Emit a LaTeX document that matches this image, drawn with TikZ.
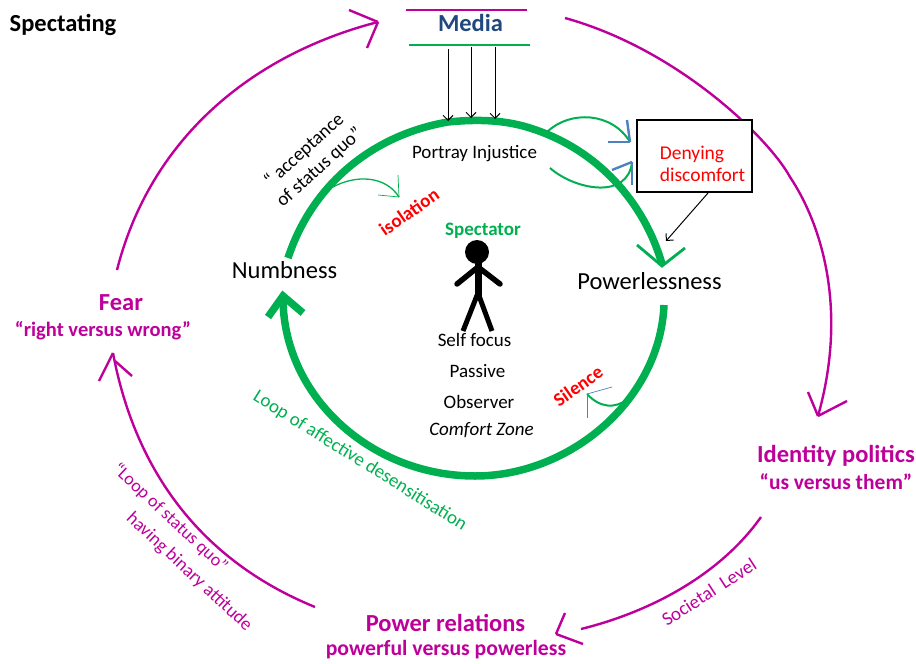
\documentclass[tikz,border=0pt]{standalone}
\usepackage{fontspec}
\setmainfont{Carlito}
\usetikzlibrary{arrows.meta}
\definecolor{pgreen}{RGB}{0,176,80}
\definecolor{ppurple}{RGB}{190,0,155}
\definecolor{pblue}{RGB}{31,73,125}
\definecolor{parrow}{RGB}{79,129,189}
\tikzset{
 lbl/.style={inner sep=0pt,align=center,font=\fontsize{#1}{#1}\selectfont},
 blbl/.style={inner sep=0pt,align=center,font=\fontsize{#1}{#1}\selectfont\bfseries},
 loopline/.style={ppurple,line width=2.4pt},
 bigloop/.style={pgreen,line width=7.5pt},
 smallarc/.style={pgreen,line width=2pt},
 wingb/.style={parrow,line width=2.4pt},
 thinb/.style={parrow,line width=.7pt},
 thinarrow/.style={black,line width=1pt,-{Straight Barb[length=5pt,width=10pt]}}
}
\begin{document}
\begin{tikzpicture}[x=1pt,y=-1pt]
\useasboundingbox (0,0) rectangle (916,664);
% coordinates
\coordinate (mr) at (565,18);
\coordinate (midid) at (790,177);
\coordinate (tipid) at (818,416);
\coordinate (idb) at (761,517);
\coordinate (endpow) at (581,629);
\coordinate (tippow) at (556,634);
\coordinate (pl) at (315,607);
\coordinate (tipfear) at (113,353);
\coordinate (fear) at (117,270);
\coordinate (tipmedia) at (378,22);
% purple loops
\draw[loopline] (mr) .. controls (680,50) and (770,140) .. (midid) .. controls (822,225) and (848,310) .. (tipid);
\draw[loopline] (tipid) -- (808,392);
\draw[loopline] (tipid) -- (847,401);
\draw[loopline] (idb) .. controls (720,575) and (650,612) .. (endpow);
\draw[loopline] (tippow) -- (565,613);
\draw[loopline] (tippow) -- (583,644);
\draw[loopline] (pl) .. controls (200,560) and (135,470) .. (tipfear);
\draw[loopline] (tipfear) -- (99,381);
\draw[loopline] (115,361) -- (132,376);
\draw[loopline] (fear) .. controls (150,140) and (250,55) .. (tipmedia);
\draw[loopline] (tipmedia) -- (349,10);
\draw[loopline] (tipmedia) -- (367,48);
% media
\coordinate (ml1) at (406,10);\coordinate (ml2) at (527,10);
\coordinate (ml3) at (409,45);\coordinate (ml4) at (530,45);
\draw[ppurple,line width=2.6pt] (ml1) -- (ml2);
\draw[pgreen,line width=2.8pt] (ml3) -- (ml4);
\node[blbl=24.5,text=pblue] (media) at (470.5,22.5) {Media};
% green loop
\coordinate (g1) at (288,258);
\coordinate (g1b) at (448,122);
\coordinate (g1c) at (530,128);
\coordinate (g1d) at (662,264);
\draw[bigloop] (g1) .. controls (312,185) and (372,135) .. (g1b) .. controls (478,119) and (505,120) .. (g1c) .. controls (600,150) and (645,205) .. (g1d);
\coordinate (g2) at (664,305);
\coordinate (g2b) at (475,476);
\coordinate (g2c) at (283,296);
\draw[bigloop] (g2) .. controls (660,400) and (570,476) .. (g2b) .. controls (370,476) and (282,395) .. (g2c);
\draw[pgreen,line width=7.5pt] (268,317) -- (283,296) -- (303,313);
\draw[pgreen,line width=2.8pt] (637,245) -- (662,266) -- (685,248);
% small arcs
\coordinate (a1) at (333,187);
\coordinate (a1t) at (399,197);
\draw[smallarc,line width=1.3pt] (a1) .. controls (355,175) and (385,175) .. (a1t);
\draw[pgreen,line width=.7pt] (a1t) -- (398,175);
\draw[pgreen,line width=.7pt] (a1t) -- (378,195);
\coordinate (a2) at (547,132);
\coordinate (a2t) at (630,142);
\draw[smallarc] (a2) .. controls (570,110) and (612,112) .. (a2t);
\draw[wingb] (a2t) -- (627,120);
\draw[wingb] (a2t) -- (608,142);
\coordinate (a3) at (550,168);
\coordinate (a3t) at (632,162);
\draw[smallarc] (a3) .. controls (575,190) and (628,200) .. (a3t);
\draw[wingb] (a3t) -- (632,185);
\draw[wingb] (a3t) -- (612,170);
\coordinate (a4) at (628,399);
\coordinate (a4t) at (587,394);
\draw[smallarc] (a4) .. controls (615,409) and (600,408) .. (a4t);
\draw[thinb] (a4t) -- (612,387);
\draw[thinb] (a4t) -- (587,418);
% box
\node[draw=black,line width=2pt,fill=white,minimum width=115pt,minimum height=72pt,inner sep=0pt] (box) at (694.5,156) {};
\node[inner sep=0pt,align=left,text=red,font=\fontsize{19.5}{22}\selectfont] (boxt) at (702.5,164) {Denying\\discomfort};
% media arrows
\coordinate (m1) at (448,49);\coordinate (m1e) at (448,121);
\coordinate (m2) at (471,47);\coordinate (m2e) at (471,118);
\coordinate (m3) at (495,47);\coordinate (m3e) at (495,119);
\draw[thinarrow] (m1) -- (m1e);
\draw[thinarrow] (m2) -- (m2e);
\draw[thinarrow] (m3) -- (m3e);
\coordinate (bx) at (708,193);\coordinate (bxe) at (666,241);
\draw[thinarrow] (bx) -- (bxe);
% person
\fill (477,252) circle (12);
\draw[line width=5.5pt,line cap=round] (457,284) -- (478,267) -- (500,284);
\draw[line width=7pt] (478,263) -- (478,297);
\draw[line width=5pt] (478,293) -- (463,331);
\draw[line width=5pt] (478,293) -- (492,331);
% texts
\node[blbl=24.5] (spect) at (63,25) {Spectating};
\node[lbl=24.5] (numb) at (284.5,270) {Numbness};
\node[lbl=24.5] (power) at (649.5,281) {Powerlessness};
\node[lbl=19] (portray) at (474.5,154) {Portray Injustice};
\node[blbl=19,text=pgreen] (spectator) at (483,231) {Spectator};
\node[lbl=19] (self) at (474.5,340) {Self focus};
\node[lbl=19] (pass) at (477.5,371) {Passive};
\node[lbl=19] (obs) at (479,402) {Observer};
\node[lbl=19,font=\fontsize{19}{19}\selectfont\itshape] (cz) at (481.5,430) {Comfort Zone};
\node[blbl=19,text=red,rotate=35] (iso) at (409,212) {isolation};
\node[blbl=19,text=red,rotate=35] (sil) at (578,386) {Silence};
\node[inner sep=0pt,align=center,font=\fontsize{19}{23}\selectfont,rotate=42] (acc) at (312,159) {“ acceptance\\of status quo”};
\node[lbl=19,text=pgreen,rotate=-32] (loop1) at (360,461) {Loop of affective desensitisation};
\node[lbl=18,text=ppurple,rotate=-43] (loop2) at (170,518) {“Loop of status quo”};
\node[lbl=18.5,text=ppurple,rotate=-43] (loop3) at (189,572) {having binary attitude};
\node[lbl=19,text=ppurple,rotate=33] (soc) at (709,592) {Societal\ \ Level};
\node[blbl=24.5,text=ppurple] (feart) at (121,303) {Fear};
\node[blbl=20.5,text=ppurple] (fearsub) at (103,331) {“right versus wrong”};
\node[blbl=24.5,text=ppurple] (idt) at (836,456) {Identity politics};
\node[blbl=21.5,text=ppurple] (idsub) at (836,482) {“us versus them”};
\node[blbl=24.5,text=ppurple] (powt) at (445.5,623) {Power relations};
\node[blbl=21.7,text=ppurple] (powsub) at (446,650) {powerful versus powerless};
\end{tikzpicture}
\end{document}
